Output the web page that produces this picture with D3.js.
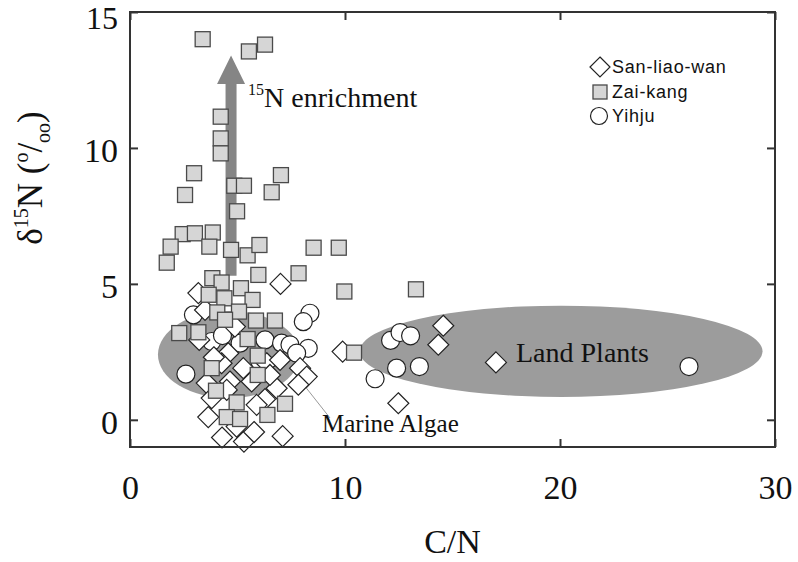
<!DOCTYPE html>
<html><head><meta charset="utf-8">
<script src="https://cdn.jsdelivr.net/npm/d3@7"></script>
<style>body{margin:0;background:#fff}svg{display:block}</style>
</head><body>
<svg id="chart" width="798" height="562"></svg>
<script>
// ---- data ----
const xTicks = [0, 10, 20, 30];
const yTicks = [0, 5, 10, 15];
const seriesNames = ["San-liao-wan", "Zai-kang", "Yihju"];

const sanliaowanX = [7.0,3.18,3.49,4.88,3.22,4.57,4.26,5.27,6.36,6.98,7.91,8.22,7.83,3.57,4.65,5.66,6.82,3.64,6.28,5.89,4.28,5.3,5.77,7.1,4.96,3.8,4.5,6.51,9.89,14.57,14.34,17.02,12.48,3.9];
const sanliaowanY = [5.0,4.66,4.04,3.43,2.94,2.45,2.08,1.9,2.08,2.2,1.9,1.59,1.29,1.35,1.41,1.41,1.16,0.1,0.76,0.55,-0.65,-0.8,-0.45,-0.6,-0.25,0.8,1.1,1.65,2.51,3.46,2.76,2.11,0.61,2.3];

const zaikangX = [3.38,5.53,6.28,4.22,4.22,4.22,2.98,2.56,4.85,5.3,7.02,6.59,4.98,2.45,3.02,3.85,1.89,3.69,1.71,4.7,5.47,6.02,8.54,9.71,7.84,5.97,3.83,4.26,5.16,9.97,13.3,3.66,4.39,5.7,5.07,4.06,4.42,5.86,6.74,2.29,3.18,5.47,5.94,3.8,5.94,4.0,4.96,7.21,4.5,5.12,6.39,10.42];
const zaikangY = [14.0,13.55,13.8,11.15,10.35,9.8,9.07,8.27,8.61,8.61,9.0,8.37,7.67,6.83,6.86,6.89,6.37,6.37,5.78,6.25,6.05,6.43,6.33,6.33,5.39,5.33,5.21,5.05,4.84,4.72,4.8,4.6,4.47,4.41,3.98,3.95,3.68,3.65,3.65,3.19,3.22,2.97,2.36,1.9,1.65,1.07,0.64,0.59,0.1,0.03,0.18,2.47];

const yihjuX = [12.12,12.56,13.05,12.4,13.46,11.4,26.0,2.95,8.37,8.06,8.29,3.8,2.6,6.28,7.05,7.44,7.75,5.12,6.05,4.3];
const yihjuY = [2.92,3.21,3.09,1.9,1.96,1.51,1.96,3.86,3.92,3.61,2.63,2.88,1.68,2.94,2.82,2.76,2.45,2.82,2.14,3.1];

// regions: [cx, cy, rx, ry] in data units
const regionNames = ["Marine Algae", "Land Plants"];
const regionCx = [4.6, 20.05];
const regionCy = [2.4, 2.52];
const regionRx = [3.3, 9.37];
const regionRy = [1.6, 1.68];

// ---- drawing ----
const svg = d3.select("#chart");
const x = d3.scaleLinear().domain([0, 30]).range([130, 775]);
const y = d3.scaleLinear().domain([-1, 15]).range([447, 12]);
const serif = "'Times New Roman','Liberation Serif',serif";

// ellipses
svg.selectAll("ellipse.region").data(regionNames).join("ellipse")
  .attr("class","region")
  .attr("cx",(d,i)=>x(regionCx[i])).attr("cy",(d,i)=>y(regionCy[i]))
  .attr("rx",(d,i)=>x(regionRx[i])-x(0)).attr("ry",(d,i)=>y(0)-y(regionRy[i]))
  .attr("fill","#9c9c9c");

// leader line for Marine Algae
svg.append("line")
  .attr("x1",x(7.9)).attr("y1",y(1.47)).attr("x2",x(9.3)).attr("y2",y(0.07))
  .attr("stroke","#999").attr("stroke-width",1);

// arrow
const ax = x(4.7), aTop = y(13.4), aBot = y(5.3), aHead = y(12.35);
svg.append("path")
  .attr("d",`M${ax-5.5},${aBot} L${ax-5.5},${aHead} L${ax-14},${aHead} L${ax},${aTop} L${ax+14},${aHead} L${ax+5.5},${aHead} L${ax+5.5},${aBot} Z`)
  .attr("fill","#858585");

// markers
const g = svg.append("g");
g.selectAll("circle.yihju").data(yihjuX).join("circle")
  .attr("class","yihju")
  .attr("cx",(d)=>x(d)).attr("cy",(d,i)=>y(yihjuY[i])).attr("r",9)
  .attr("fill","#fff").attr("stroke","#222").attr("stroke-width",1.2);
const dia = 10.5;
g.selectAll("path.slw").data(sanliaowanX).join("path")
  .attr("class","slw")
  .attr("d",(d,i)=>{const cx=x(d),cy=y(sanliaowanY[i]);return `M${cx},${cy-dia} L${cx+dia},${cy} L${cx},${cy+dia} L${cx-dia},${cy} Z`;})
  .attr("fill","#fff").attr("stroke","#222").attr("stroke-width",1.2);
const sq = 15;
g.selectAll("rect.zk").data(zaikangX).join("rect")
  .attr("class","zk")
  .attr("x",(d)=>x(d)-sq/2).attr("y",(d,i)=>y(zaikangY[i])-sq/2)
  .attr("width",sq).attr("height",sq)
  .attr("fill","#d6d6d6").attr("stroke","#4a4a4a").attr("stroke-width",1.3);

// frame
svg.append("rect").attr("x",130).attr("y",12).attr("width",645).attr("height",435)
  .attr("fill","none").attr("stroke","#333").attr("stroke-width",2);

// axes
const bottom = svg.append("g").attr("transform","translate(0,447)")
  .call(d3.axisBottom(x).tickValues(xTicks).tickSizeInner(-8).tickSizeOuter(0).tickPadding(28));
const left = svg.append("g").attr("transform","translate(130,0)")
  .call(d3.axisLeft(y).tickValues(yTicks).tickSizeInner(-8).tickSizeOuter(0).tickPadding(12));
svg.append("g").attr("transform","translate(0,12)")
  .call(d3.axisTop(x).tickValues(xTicks).tickSizeInner(-8).tickSizeOuter(0).tickFormat(""));
svg.append("g").attr("transform","translate(775,0)")
  .call(d3.axisRight(y).tickValues(yTicks).tickSizeInner(-8).tickSizeOuter(0).tickFormat(""));
svg.selectAll(".domain").remove();
svg.selectAll(".tick line").attr("stroke","#333").attr("stroke-width",2);
svg.selectAll(".tick text").attr("font-family",serif).attr("font-size",34).attr("fill","#111");
left.selectAll(".tick text").attr("dy",d=> d===15 ? "0.52em" : "0.4em").attr("font-size",d=> d===15 ? 32 : 34);

// axis titles
svg.append("text").attr("x",x(15)).attr("y",553).attr("text-anchor","middle")
  .attr("font-family",serif).attr("font-size",34).attr("fill","#111").text("C/N");
const yl = svg.append("text").attr("transform","translate(42,178) rotate(-90)")
  .attr("text-anchor","middle").attr("font-family",serif).attr("font-size",35).attr("fill","#111");
yl.append("tspan").text("δ");
yl.append("tspan").attr("font-size",20).attr("dy",-14).text("15");
yl.append("tspan").attr("dy",14).text("N (");
yl.append("tspan").attr("font-size",20).attr("dy",-14).text("o");
yl.append("tspan").attr("dy",14).text("/");
yl.append("tspan").attr("font-size",20).attr("dy",8).text("oo");
yl.append("tspan").attr("dy",-8).text(")");

// annotations
const en = svg.append("text").attr("x",248).attr("y",107).attr("font-family",serif).attr("font-size",28).attr("fill","#111");
en.append("tspan").attr("font-size",16).attr("dy",-12).text("15");
en.append("tspan").attr("dy",12).text("N enrichment");
svg.append("text").attr("x",516).attr("y",362).attr("font-family",serif).attr("font-size",28).attr("fill","#111").text(regionNames[1]);
svg.append("text").attr("x",322).attr("y",432).attr("font-family",serif).attr("font-size",25).attr("fill","#111").text(regionNames[0]);

// legend
const lg = svg.append("g").attr("transform","translate(600,0)");
const ly = [67, 92, 116];
lg.append("path").attr("d",`M0,${ly[0]-10} L10,${ly[0]} L0,${ly[0]+10} L-10,${ly[0]} Z`).attr("fill","#fff").attr("stroke","#222").attr("stroke-width",1.2);
lg.append("rect").attr("x",-7).attr("y",ly[1]-7).attr("width",14).attr("height",14).attr("fill","#d6d6d6").attr("stroke","#4a4a4a").attr("stroke-width",1.3);
lg.append("circle").attr("cx",-1).attr("cy",ly[2]).attr("r",8.5).attr("fill","#fff").attr("stroke","#222").attr("stroke-width",1.2);
lg.selectAll("text").data(seriesNames).join("text")
  .attr("x",12).attr("y",(d,i)=>ly[i]+6).attr("font-family","'Liberation Sans',Arial,sans-serif")
  .attr("font-size",18).attr("letter-spacing",0.8).attr("fill","#111").text(d=>d);
</script>
</body></html>
